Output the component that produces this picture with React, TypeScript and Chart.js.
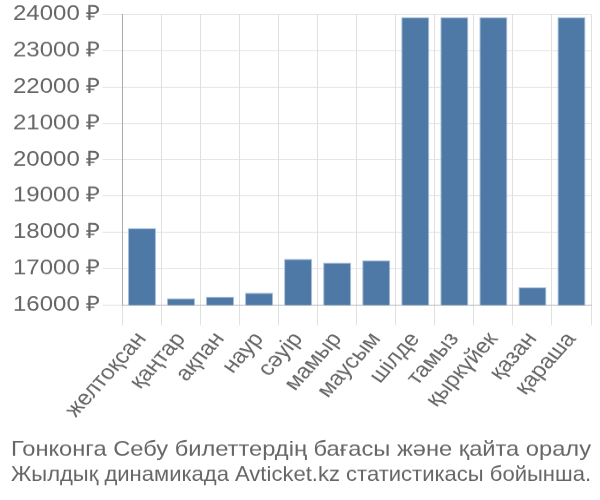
import React, { useEffect, useRef } from "react";
import { Chart, registerables } from "chart.js";

Chart.register(...registerables);

const categories = ["желтоқсан", "қаңтар", "ақпан", "наур", "сәуір", "мамыр", "маусым", "шілде", "тамыз", "қыркүйек", "қазан", "қараша"];
const prices = [18120, 16190, 16230, 16340, 17270, 17170, 17230, 23920, 23920, 23920, 16490, 23920];
const titleLines = ["Гонконга Себу билеттердің бағасы және қайта оралу", "Жылдық динамикада Avticket.kz статистикасы бойынша."];
const currency = " ₽";

const FONT = "'Liberation Sans', Arial, sans-serif";
const RENDER_H = 576;

export default function App() {
  const ref = useRef<HTMLCanvasElement>(null);
  useEffect(() => {
    document.body.style.margin = "0";
    const chart = new Chart(ref.current!, {
      type: "bar",
      data: {
        labels: categories,
        datasets: [{
          data: prices,
          backgroundColor: "#4e79a7",
          borderColor: "rgba(160,185,215,0.9)",
          borderWidth: 1,
        }],
      },
      options: {
        animation: false,
        responsive: true,
        maintainAspectRatio: false,
        layout: { padding: { left: 11, right: 9 } },
        plugins: {
          legend: { display: false },
          tooltip: { enabled: false },
          title: {
            display: true,
            position: "bottom",
            text: titleLines,
            color: "#666",
            font: { family: FONT, size: 24, weight: "normal" },
            padding: { top: 15, bottom: 14 },
          },
        },
        scales: {
          x: {
            ticks: {
              color: "#666",
              font: { family: FONT, size: 24 },
              maxRotation: 52,
              minRotation: 52,
              autoSkip: false,
              padding: 3,
            },
            grid: { color: "#e0e0e0", lineWidth: 1, tickLength: 23 },
            border: { color: "#bbb" },
          },
          y: {
            min: 16000,
            max: 24000,
            ticks: {
              stepSize: 1000,
              color: "#666",
              font: { family: FONT, size: 24 },
              callback: (v: any) => v + currency,
              padding: 2,
            },
            grid: { color: "#e0e0e0", lineWidth: 1, tickLength: 20 },
            border: { color: "#aaa" },
          },
        },
      },
    });
    return () => chart.destroy();
  }, []);
  return (
    <div style={{ position: "absolute", left: 0, top: 0, width: 600, height: 500, overflow: "hidden" }}>
      <div style={{ width: 600, height: RENDER_H, transform: `scaleY(${500 / RENDER_H})`, transformOrigin: "0 0" }}>
        <canvas ref={ref} />
      </div>
    </div>
  );
}
